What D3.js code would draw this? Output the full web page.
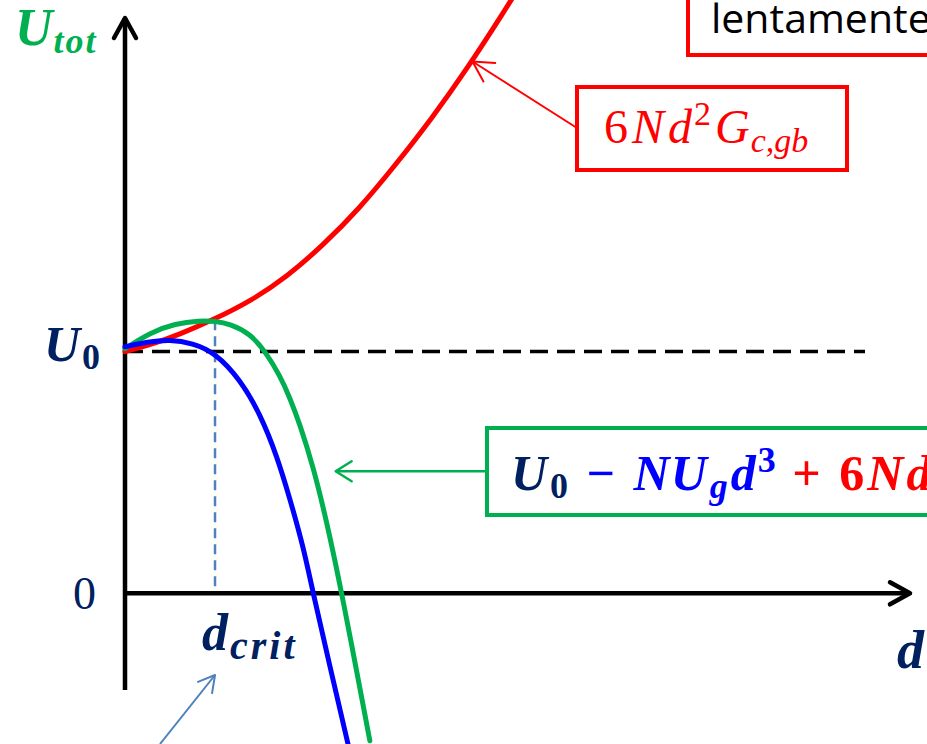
<!DOCTYPE html>
<html>
<head>
<meta charset="utf-8">
<script src="https://cdn.jsdelivr.net/npm/d3@7"></script>
<style>
  html, body { margin: 0; padding: 0; background: #fff; overflow: hidden; }
  svg { display: block; }
</style>
</head>
<body>
<svg id="chart" width="927" height="744"></svg>
<script>
// units: d_crit = 1 on the d axis, U0 = 1 on the energy axis
const dCrit = 1;
const U0 = 1;

// 6Nd^2 G_c,gb  (red)
const redD = [0, 0.3, 0.6, 1.0, 1.4, 1.8, 2.2, 2.6, 3.0, 3.4, 3.8, 4.2, 4.45];
const redU = [1.00, 1.03, 1.07, 1.135, 1.21, 1.31, 1.44, 1.59, 1.77, 1.96, 2.17, 2.40, 2.55];

// U0 - NUg d^3  (blue)
const blueD = [0, 0.25, 0.5, 0.75, 1.0, 1.28, 1.5, 1.69, 1.83, 1.98, 2.09, 2.3, 2.5];
const blueU = [1.02, 1.04, 1.05, 1.035, 0.996, 0.884, 0.743, 0.566, 0.393, 0.194, 0.0, -0.34, -0.66];

// total  (green)
const greenD = [0, 0.28, 0.56, 0.83, 1.0, 1.17, 1.39, 1.56, 1.72, 1.83, 1.94, 2.09, 2.24, 2.41, 2.72];
const greenU = [1.012, 1.079, 1.116, 1.128, 1.126, 1.114, 1.074, 1.0, 0.901, 0.81, 0.702, 0.525, 0.298, 0.0, -0.61];

const NAVY = "#002060";
const RED = "#ff0000";
const GREEN = "#00b050";
const BLUE = "#0000ff";
const STEEL = "#4f81bd";
const MATH = "'Liberation Serif', 'DejaVu Serif', serif";

const svg = d3.select("#chart");

const x = d3.scaleLinear().domain([0, 8.72]).range([125, 910]);
const y = d3.scaleLinear().domain([-0.4, 2.38]).range([690, 18]);

// open chevron arrow heads
const defs = svg.append("defs");
function chevron(id, color, len, half, width) {
  defs.append("marker")
    .attr("id", id)
    .attr("markerUnits", "userSpaceOnUse")
    .attr("viewBox", `${-len - 4} ${-half - 4} ${len + 8} ${2 * half + 8}`)
    .attr("markerWidth", len + 8)
    .attr("markerHeight", 2 * half + 8)
    .attr("refX", 0)
    .attr("refY", 0)
    .attr("orient", "auto")
    .append("polyline")
    .attr("points", `${-len},${-half} 0,0 ${-len},${half}`)
    .attr("fill", "none")
    .attr("stroke", color)
    .attr("stroke-width", width)
    .attr("stroke-linecap", "round")
    .attr("stroke-linejoin", "round");
}
chevron("axisHead", "#000", 20, 11, 4.5);
chevron("redHead", RED, 20, 11, 2);
chevron("greenHead", GREEN, 16, 10, 2.5);
chevron("blueHead", STEEL, 16, 9, 2);

// reference line at U0 and the d_crit marker
svg.append("line")
  .attr("x1", x(0)).attr("x2", x(8.22))
  .attr("y1", y(U0)).attr("y2", y(U0))
  .attr("stroke", "#000").attr("stroke-width", 3.5)
  .attr("stroke-dasharray", "18 9");

svg.append("line")
  .attr("x1", x(dCrit)).attr("x2", x(dCrit))
  .attr("y1", y(1.13)).attr("y2", y(0))
  .attr("stroke", STEEL).attr("stroke-width", 2.5)
  .attr("stroke-dasharray", "10 6");

// axes
svg.append("line")
  .attr("x1", x(0)).attr("y1", y(-0.4))
  .attr("x2", x(0)).attr("y2", y(2.38))
  .attr("stroke", "#000").attr("stroke-width", 4.5)
  .attr("marker-end", "url(#axisHead)");

svg.append("line")
  .attr("x1", x(0)).attr("y1", y(0))
  .attr("x2", x(8.72)).attr("y2", y(0))
  .attr("stroke", "#000").attr("stroke-width", 4.5)
  .attr("marker-end", "url(#axisHead)");

// curves
const line = d3.line()
  .x(d => x(d[0]))
  .y(d => y(d[1]))
  .curve(d3.curveBasis);

const series = [
  { d: redD, u: redU, color: RED },
  { d: greenD, u: greenU, color: GREEN },
  { d: blueD, u: blueU, color: BLUE }
];

svg.selectAll("path.curve")
  .data(series)
  .join("path")
  .attr("class", "curve")
  .attr("d", s => line(d3.zip(s.d, s.u)))
  .attr("fill", "none")
  .attr("stroke", s => s.color)
  .attr("stroke-width", 5)
  .attr("stroke-linecap", "round");

// math-ish text: each part may be shifted up (sup) or down (sub)
function mathText(px, py, parts, base) {
  const t = svg.append("text")
    .attr("x", px).attr("y", py)
    .attr("font-family", MATH)
    .attr("font-weight", base.weight || "normal")
    .attr("letter-spacing", base.spacing || 0)
    .attr("fill", base.fill || "#000");
  let prev = 0;
  parts.forEach(p => {
    const shift = p.shift || 0;
    t.append("tspan")
      .attr("dy", shift - prev)
      .attr("dx", p.dx || 0)
      .attr("font-size", p.size || base.size)
      .attr("font-style", p.upright ? "normal" : "italic")
      .attr("letter-spacing", p.spacing || null)
      .attr("fill", p.fill || null)
      .text(p.t);
    prev = shift;
  });
  return t;
}

// axis labels
mathText(15, 45, [
  { t: "U" },
  { t: "tot", size: 36, shift: 8, dx: 1, spacing: 2 }
], { size: 52, weight: "bold", fill: GREEN });

mathText(44, 361, [
  { t: "U" },
  { t: "0", size: 36, shift: 8, dx: 2, upright: true }
], { size: 50, weight: "bold", fill: NAVY });

svg.append("text")
  .attr("x", 73).attr("y", 609)
  .attr("font-family", MATH)
  .attr("font-size", 46)
  .attr("fill", NAVY)
  .text("0");

mathText(202, 650, [
  { t: "d" },
  { t: "crit", size: 40, shift: 9, dx: 2, spacing: 3 }
], { size: 52, weight: "bold", fill: NAVY });

mathText(897, 668, [{ t: "d" }], { size: 54, weight: "bold", fill: NAVY });

// annotation: red box at top right
svg.append("rect")
  .attr("x", 688).attr("y", -10)
  .attr("width", 300).attr("height", 65)
  .attr("fill", "#fff")
  .attr("stroke", RED).attr("stroke-width", 4);

svg.append("text")
  .attr("x", 711).attr("y", 33)
  .attr("font-family", "'Open Sans', Lato, sans-serif")
  .attr("font-size", 41)
  .attr("fill", "#000")
  .text("lentamente");

// annotation: 6Nd^2 G_c,gb
svg.append("line")
  .attr("x1", 577).attr("y1", 128)
  .attr("x2", x(3.86)).attr("y2", y(2.2))
  .attr("stroke", RED).attr("stroke-width", 2)
  .attr("marker-end", "url(#redHead)");

svg.append("rect")
  .attr("x", 577).attr("y", 87)
  .attr("width", 270).attr("height", 83)
  .attr("fill", "#fff")
  .attr("stroke", RED).attr("stroke-width", 4);

mathText(604, 143, [
  { t: "6", upright: true },
  { t: "N", dx: 4 },
  { t: "d", dx: 4 },
  { t: "2", size: 34, shift: -18, upright: true, dx: 2 },
  { t: "G", dx: 4 },
  { t: "c,gb", size: 34, shift: 9, dx: 1 }
], { size: 48, fill: RED });

// annotation: total energy
svg.append("line")
  .attr("x1", 487).attr("y1", y(0.505))
  .attr("x2", x(2.34)).attr("y2", y(0.505))
  .attr("stroke", GREEN).attr("stroke-width", 2.5)
  .attr("marker-end", "url(#greenHead)");

svg.append("rect")
  .attr("x", 487).attr("y", 428)
  .attr("width", 520).attr("height", 87)
  .attr("fill", "#fff")
  .attr("stroke", GREEN).attr("stroke-width", 4);

mathText(511, 490, [
  { t: "U", fill: NAVY },
  { t: "0", size: 36, shift: 8, upright: true, fill: NAVY, dx: 2 },
  { t: " − ", upright: true, fill: BLUE, dx: 4 },
  { t: "NU", fill: BLUE, dx: 4 },
  { t: "g", size: 36, shift: 8, fill: BLUE, dx: 2 },
  { t: "d", fill: BLUE, dx: 2 },
  { t: "3", size: 36, shift: -18, upright: true, fill: BLUE, dx: 1 },
  { t: " + ", upright: true, fill: RED, dx: 2 },
  { t: "6", upright: true, fill: RED, dx: 4 },
  { t: "N", fill: RED, dx: 2 },
  { t: "d", fill: RED, dx: 2 },
  { t: "2", size: 36, shift: -18, upright: true, fill: RED },
  { t: "G", fill: RED },
  { t: "c,gb", size: 36, shift: 8, fill: RED }
], { size: 50, weight: "bold", spacing: 1 });

// d_crit pointer
svg.append("line")
  .attr("x1", 160).attr("y1", 744)
  .attr("x2", x(dCrit)).attr("y2", 675)
  .attr("stroke", STEEL).attr("stroke-width", 2)
  .attr("marker-end", "url(#blueHead)");
</script>
</body>
</html>
